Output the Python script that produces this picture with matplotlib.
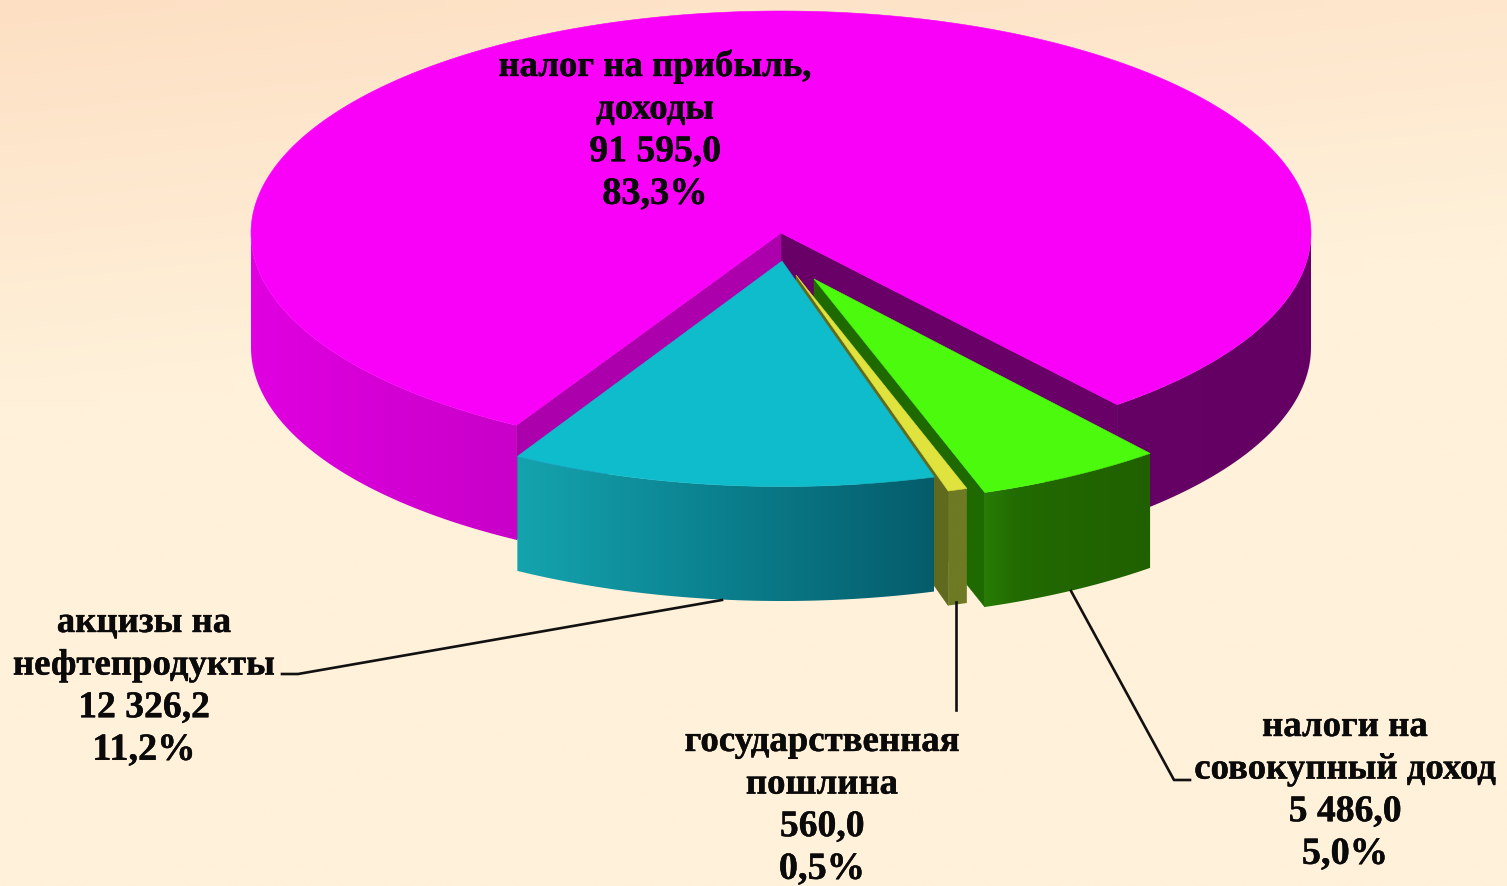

# 3D looking pie of tax revenue, drawn by hand since matplotlib has no such pie
import numpy as np
import matplotlib
matplotlib.use('Agg')
import matplotlib.pyplot as plt
from matplotlib.colors import LinearSegmentedColormap
from matplotlib.patches import Polygon
from matplotlib import patheffects

# data, in the order going counter clockwise around the pie
names = [['налог на прибыль,', 'доходы'],
         ['акцизы на', 'нефтепродукты'],
         ['государственная', 'пошлина'],
         ['налоги на', 'совокупный доход']]
values = [91595.0, 12326.2, 560.0, 5486.0]
value_labels = ['91 595,0', '12 326,2', '560,0', '5 486,0']
percent_labels = ['83,3%', '11,2%', '0,5%', '5,0%']

# pie geometry in pixels
cx, cy = 781, 233
rx, ry = 530, 222
front_ry = 225.5
depth = 114.5
start_angle = 304.2
persp = 0.16
offsets = [(0, 0), (1, 28), (15, 42), (33, 46)]

top_colors = ['#f900f9', '#0fbccc', '#e0e23e', '#4cfa0e']
face_colors = ['#680068', None, '#5f6a1e', '#1e6a00']
magenta_left_face = '#ab00ab'
wall_colors = [[(0, '#e000e0'), (0.25, '#c800c8'), (0.8, '#660066'), (1, '#640064')],
               [(0, '#14a4ae'), (0.5, '#0b7f8d'), (1, '#055c6b')],
               [(0, '#6e7a24'), (1, '#6e7a24')],
               [(0, '#277c05'), (0.2, '#226a02'), (1, '#206000')]]
draw_order = [0, 3, 2, 1]

fig = plt.figure(figsize=(15.07, 8.86), dpi=100)
ax = fig.add_axes([0, 0, 1, 1])

# background, peach in the top left fading to cream
yy, xx = np.mgrid[0:1:60j, 0:1:100j]
fade = np.clip(yy / 0.45 + 0.4 * xx, 0, 1)
peach = np.array([253, 224, 196]) / 255
cream = np.array([255, 241, 218]) / 255
bg = peach + (cream - peach) * fade[..., None]
ax.imshow(bg, extent=(0, 1507, 886, 0), aspect='auto', interpolation='bilinear', zorder=0)


def warp(theta):
    # front of the pie looks wider than the back
    return theta + np.degrees(persp * np.sin(np.radians(theta - 270)))


def rim(theta, off, radius_y):
    t = np.radians(warp(theta))
    return np.column_stack([cx + off[0] + rx * np.cos(t), cy + off[1] - radius_y * np.sin(t)])


def add_poly(pts, color, z):
    ax.add_patch(Polygon(pts, closed=True, facecolor=color, edgecolor=color, lw=0.4, zorder=z))


def add_wall(a0, a1, off, radius_y, stops, x0, x1, z):
    # outer wall, only the parts that face the viewer
    a = np.linspace(a0, a1, 400)
    front = np.sin(np.radians(warp(a))) <= 0.001
    cmap = LinearSegmentedColormap.from_list('wall', stops)
    for run in np.split(a, np.where(np.diff(front.astype(int)) != 0)[0] + 1):
        if len(run) < 2 or np.sin(np.radians(warp(run[len(run) // 2]))) > 0:
            continue
        edge = rim(run, off, radius_y)
        pts = np.vstack([edge, (edge + [0, depth])[::-1]])
        patch = Polygon(pts, closed=True, transform=ax.transData)
        im = ax.imshow(np.linspace(0, 1, 256)[None, :], extent=(x0, x1, 886, 0), aspect='auto',
                       cmap=cmap, vmin=0, vmax=1, interpolation='bilinear', zorder=z)
        im.set_clip_path(patch)


shares = np.array(values) / sum(values) * 360
edges = start_angle + np.concatenate([[0], np.cumsum(shares)])

z = 1
for i in draw_order:
    a0, a1 = edges[i], edges[i + 1]
    off = offsets[i]
    radius_y = ry if i == 0 else front_ry
    apex = np.array([cx + off[0], cy + off[1]], dtype=float)
    arc = rim(np.linspace(a0, a1, 300), off, radius_y)
    low = np.array([0, depth])

    if i == 0:
        add_wall(a0, a1, off, radius_y, wall_colors[i], cx - rx, cx + rx, z)
        z += 1
        # both cut faces of the big slice
        add_poly([apex, arc[0], arc[0] + low, apex + low], face_colors[0], z)
        add_poly([apex, arc[-1], arc[-1] + low, apex + low], magenta_left_face, z)
    else:
        if face_colors[i] is not None:
            add_poly([apex, arc[0], arc[0] + low, apex + low], face_colors[i], z)
            z += 1
        add_wall(a0, a1, off, radius_y, wall_colors[i], arc[:, 0].min(), arc[:, 0].max(), z)
    z += 1
    add_poly(np.vstack([apex, arc]), top_colors[i], z)
    z += 1

# leader lines
ax.plot([722, 298, 282], [600, 674, 674], color='#111111', lw=1.9, zorder=z)
ax.plot([956, 956], [602, 710], color='#111111', lw=1.9, zorder=z)
ax.plot([1071, 1174, 1190], [591, 780, 780], color='#111111', lw=1.9, zorder=z)

# labels
label_x = [655, 144, 822, 1345]
label_y = [76, 632, 751, 736]
line_sizes = [26.5, 26.5, 27.1, 27.6]
for i in range(len(values)):
    lines = names[i] + [value_labels[i], percent_labels[i]]
    for n, line in enumerate(lines):
        ax.text(label_x[i], label_y[i] + n * 42.6, line, ha='center', va='baseline',
                family='Liberation Serif', weight='bold', fontsize=line_sizes[n], color='#0a0a0a',
                zorder=z + 1, path_effects=[patheffects.withStroke(linewidth=0.3, foreground='#0a0a0a')])

ax.set_xlim(0, 1507)
ax.set_ylim(886, 0)
ax.axis('off')
fig.savefig('out.png', dpi=100)
